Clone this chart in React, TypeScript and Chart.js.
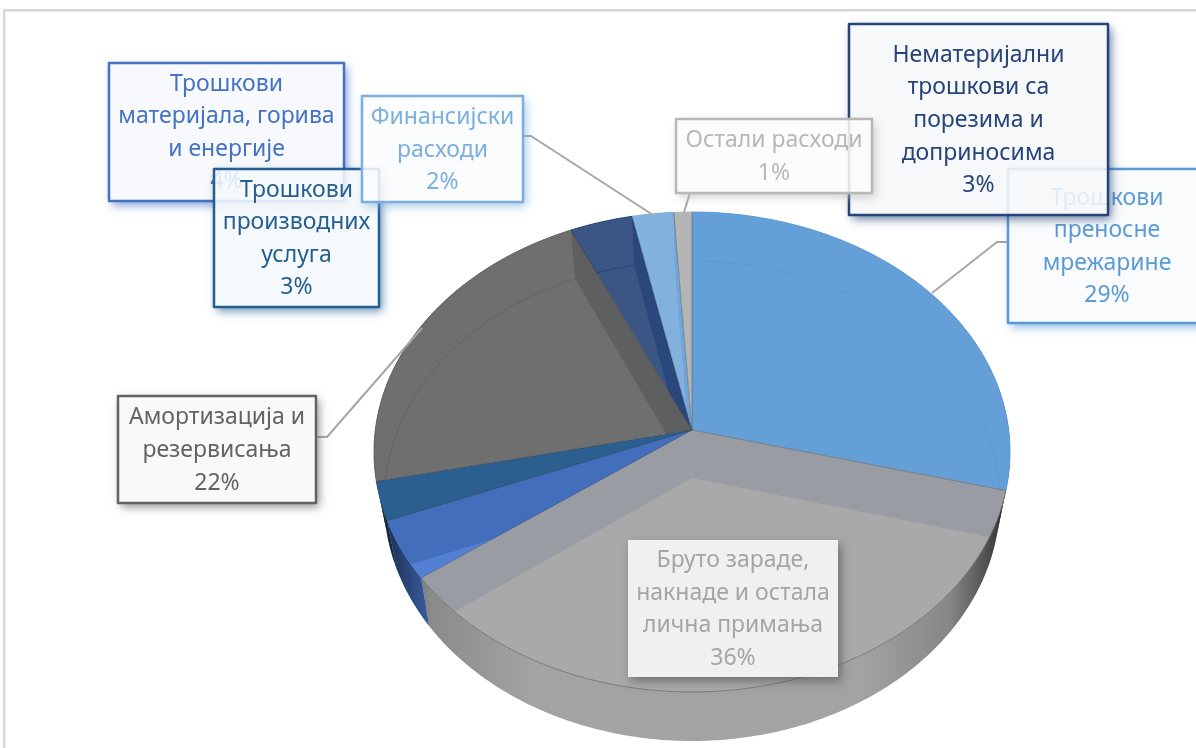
import React, { useEffect, useRef } from "react";
import { Chart, registerables } from "chart.js";

Chart.register(...registerables);

const categories: string[][] = [
  ["Трошкови", "преносне", "мрежарине"],
  ["Бруто зараде,", "накнаде и остала", "лична примања"],
  ["Трошкови", "материјала, горива", "и енергије"],
  ["Трошкови", "производних", "услуга"],
  ["Амортизација и", "резервисања"],
  ["Нематеријални", "трошкови са", "порезима и", "доприносима"],
  ["Финансијски", "расходи"],
  ["Остали расходи"],
];
const values = [29.0, 36.0, 4.0, 2.6, 21.6, 3.49, 2.31, 1.0];
const seriesColors = ["#5B9BD5", "#A5A5A5", "#4472C4", "#255E91", "#636363", "#264478", "#7CAFDD", "#B7B7B7"];
const faceColors = ["#659FD7", "#A9A9A9", "#5380D2", "#2A5F91", "#6F6F6F", "#3B5585", "#82B1DD", "#B5B5B5"];
const innerColors = ["#659FD7", "#999DA3", "#426EBC", "#2A5F8F", "#5E5F61", "#29477A", "#6FA6DC", "#B2B2B2"];
const wallColors = ["#5B9BD5", "#A8A8A8", "#4472C4", "#255E91", "#636363", "#264478", "#7CAFDD", "#B7B7B7"];
const labelBoxes = [
  [1008, 169, 1206, 323],
  [628, 540, 838, 677],
  [109, 63, 344, 201],
  [214, 169, 379, 307],
  [118, 396, 316, 503],
  [849, 24, 1108, 215],
  [362, 96, 523, 202],
  [676, 119, 872, 193],
];
const leaders = [
  [[932, 293], [997, 242], [1007, 242]],
  [],
  [],
  [],
  [[317, 437], [327, 437], [422, 328]],
  [],
  [[524, 136], [531, 136], [653, 215]],
  [[690, 193], [684, 212]],
];

const FONT = "23px 'Noto Sans', sans-serif";
const LINE = 32.6;

function hexRgba(hex: string, a: number) {
  const n = parseInt(hex.slice(1), 16);
  return `rgba(${(n >> 16) & 255},${(n >> 8) & 255},${n & 255},${a})`;
}

const pie3d = {
  id: "pie3d",
  beforeDraw(chart: any) {
    const ctx = chart.ctx;
    ctx.save();
    ctx.fillStyle = "#FFFFFF";
    ctx.fillRect(0, 0, chart.width, chart.height);
    ctx.fillStyle = "#D9D9D9";
    ctx.fillRect(3, 9, chart.width, 2.5);
    ctx.fillRect(3, 9, 2.5, chart.height);
    ctx.restore();
  },
  beforeDatasetDraw(chart: any) {
    const ctx: CanvasRenderingContext2D = chart.ctx;
    const arcs = chart.getDatasetMeta(0).data;
    const cx = arcs[0].x;
    const cy = arcs[0].y;
    const r = arcs[0].outerRadius;
    const top = { cy, rx: r * 1.325, ry: r, k: -22 / 240 };
    const bot = { cy: cy + r * 0.204, rx: r * 1.283, ry: r, k: -23 / 240 };
    const proj = (a: number, f: typeof top) => {
      const x = Math.cos(a);
      const y = Math.sin(a);
      const d = 1 + f.k * y;
      return [cx + (f.rx * x * Math.sqrt(1 - f.k * f.k)) / d, f.cy + (f.ry * (y + f.k)) / d];
    };
    const apex = (f: typeof top) => [cx, f.cy + f.ry * f.k];
    const arcPts = (a0: number, a1: number, f: typeof top) => {
      const n = Math.max(2, Math.ceil((a1 - a0) / 0.01));
      const out: number[][] = [];
      for (let i = 0; i <= n; i++) out.push(proj(a0 + ((a1 - a0) * i) / n, f));
      return out;
    };
    const poly = (pts: number[][]) => {
      ctx.beginPath();
      pts.forEach((p, i) => (i ? ctx.lineTo(p[0], p[1]) : ctx.moveTo(p[0], p[1])));
      ctx.closePath();
    };
    const stroke = (pts: number[][], color: string, w: number) => {
      ctx.beginPath();
      pts.forEach((p, i) => (i ? ctx.lineTo(p[0], p[1]) : ctx.moveTo(p[0], p[1])));
      ctx.strokeStyle = color;
      ctx.lineWidth = w;
      ctx.stroke();
    };

    ctx.save();
    // outer side walls
    const shade = ctx.createLinearGradient(cx - top.rx, 0, cx + top.rx, 0);
    const sx = (x: number) => (x - (cx - top.rx)) / (2 * top.rx);
    shade.addColorStop(0, "rgba(0,0,0,0.7)");
    shade.addColorStop(sx(430), "rgba(0,0,0,0.18)");
    shade.addColorStop(sx(530), "rgba(0,0,0,0.03)");
    shade.addColorStop(sx(860), "rgba(0,0,0,0.03)");
    shade.addColorStop(sx(950), "rgba(0,0,0,0.2)");
    shade.addColorStop(sx(985), "rgba(0,0,0,0.5)");
    shade.addColorStop(1, "rgba(0,0,0,0.8)");
    arcs.forEach((arc: any, i: number) => {
      const a0 = arc.startAngle;
      const a1 = arc.endAngle;
      const pts = [...arcPts(a0, a1, top), ...arcPts(a0, a1, bot).reverse()];
      poly(pts);
      ctx.fillStyle = wallColors[i];
      ctx.fill();
      ctx.fillStyle = shade;
      ctx.fill();
    });
    // top faces, with the far walls showing through
    arcs.forEach((arc: any, i: number) => {
      const a0 = arc.startAngle;
      const a1 = arc.endAngle;
      const rim = arcPts(a0, a1, top);
      ctx.save();
      poly([apex(top), ...rim]);
      ctx.clip();
      ctx.fillStyle = faceColors[i];
      ctx.fillRect(0, 0, chart.width, chart.height);
      ctx.fillStyle = innerColors[i];
      for (const a of [a0, a1]) {
        poly([apex(top), proj(a, top), proj(a, bot), apex(bot)]);
        ctx.fill();
      }
      stroke(arcPts(a0, a1, bot), seriesColors[i], 1);
      ctx.restore();
    });
    arcs.forEach((arc: any, i: number) => {
      const rim = arcPts(arc.startAngle, arc.endAngle, top);
      stroke(rim, i === 1 ? "#777777" : hexRgba(seriesColors[i], 0.9), 1);
      stroke([apex(top), rim[0]], "rgba(50,50,50,0.35)", 1);
    });
    ctx.restore();
    return false;
  },
  afterDraw(chart: any) {
    const ctx: CanvasRenderingContext2D = chart.ctx;
    const total = values.reduce((s, v) => s + v, 0);
    ctx.save();
    ctx.lineJoin = "round";
    leaders.forEach((pts) => {
      if (!pts.length) return;
      ctx.beginPath();
      pts.forEach((p, i) => (i ? ctx.lineTo(p[0], p[1]) : ctx.moveTo(p[0], p[1])));
      ctx.strokeStyle = "#A6A6A6";
      ctx.lineWidth = 2;
      ctx.stroke();
    });
    ctx.font = FONT;
    ctx.textAlign = "center";
    ctx.textBaseline = "middle";
    categories.forEach((lines, i) => {
      const [x0, y0, x1, y1] = labelBoxes[i];
      const color = seriesColors[i];
      const w = x1 - x0;
      const h = y1 - y0;
      // shadow painted only outside the box
      ctx.save();
      ctx.beginPath();
      ctx.rect(0, 0, chart.width, chart.height);
      ctx.rect(x0, y0, w, h);
      ctx.clip("evenodd");
      ctx.shadowColor = hexRgba(color === "#A5A5A5" ? "#555555" : color, 0.7);
      ctx.shadowBlur = 9;
      ctx.shadowOffsetX = 3;
      ctx.shadowOffsetY = 4;
      ctx.fillStyle = "#FFFFFF";
      ctx.fillRect(x0, y0, w, h);
      ctx.restore();
      ctx.fillStyle = "rgba(255,255,255,0.87)";
      ctx.fillRect(x0, y0, w, h);
      ctx.fillStyle = hexRgba(color, 0.04);
      ctx.fillRect(x0, y0, w, h);
      ctx.strokeStyle = i === 1 ? "rgba(255,255,255,0)" : color;
      ctx.lineWidth = 2.5;
      ctx.strokeRect(x0, y0, w, h);
      const all = [...lines, `${Math.round((values[i] / total) * 100)}%`];
      const mid = (y0 + y1) / 2 + 1;
      ctx.fillStyle = color;
      all.forEach((t, j) => {
        ctx.fillText(t, (x0 + x1) / 2, mid + (j - (all.length - 1) / 2) * LINE);
      });
    });
    ctx.restore();
  },
};

export default function App() {
  const ref = useRef<HTMLCanvasElement | null>(null);
  useEffect(() => {
    document.body.style.margin = "0";
    const chart = new Chart(ref.current as HTMLCanvasElement, {
      type: "pie",
      data: {
        labels: categories.map((c) => c.join(" ")),
        datasets: [{ data: values, backgroundColor: seriesColors, borderWidth: 0 }],
      },
      options: {
        animation: false,
        responsive: false,
        layout: { padding: { left: 374, right: 186, top: 212, bottom: 56 } },
        plugins: { legend: { display: false }, tooltip: { enabled: false }, title: { display: false } },
      },
      plugins: [pie3d],
    } as any);
    return () => chart.destroy();
  }, []);
  return (
    <div style={{ position: "fixed", left: 0, top: 0, width: 1196, height: 748, overflow: "hidden" }}>
      <canvas ref={ref} width={1196} height={748} style={{ display: "block" }} />
    </div>
  );
}
